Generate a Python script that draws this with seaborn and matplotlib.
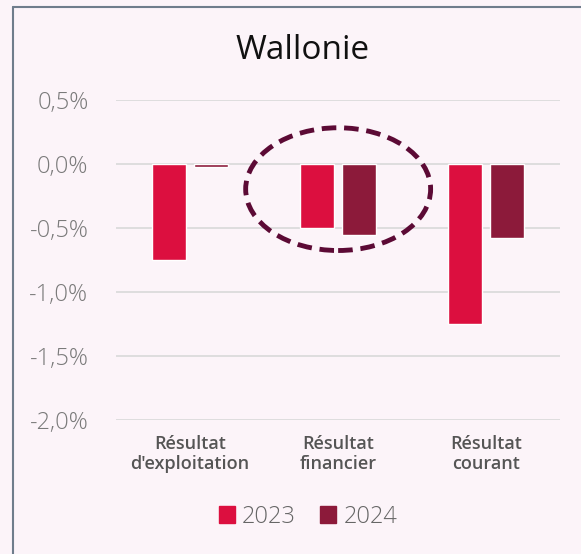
import numpy as np
import pandas as pd
import matplotlib
matplotlib.use("Agg")
import matplotlib.pyplot as plt
from matplotlib.patches import Ellipse
from matplotlib.lines import Line2D
from matplotlib.ticker import FuncFormatter
import seaborn as sns

# values (in %)
categories = ["Résultat\nd'exploitation", "Résultat\nfinancier", "Résultat\ncourant"]
years = ["2023", "2024"]
values_2023 = [-0.75, -0.50, -1.25]
values_2024 = [-0.02, -0.55, -0.58]
y_ticks = [0.5, 0.0, -0.5, -1.0, -1.5, -2.0]

colors = {"2023": "#dc0f3f", "2024": "#8c1a3a"}

df = pd.DataFrame({
    "cat": categories * 2,
    "year": [years[0]] * 3 + [years[1]] * 3,
    "value": values_2023 + values_2024,
})

sns.set_style("white")
plt.rcParams["font.family"] = ["Open Sans", "DejaVu Sans"]

fig = plt.figure(figsize=(5.81, 5.54), dpi=100, facecolor="#fcf4f9")
ax = fig.add_axes([0.2, 0.242, 0.764, 0.577])
ax.set_facecolor("none")

sns.barplot(data=df, x="cat", y="value", hue="year", palette=colors,
            width=0.57, gap=0.19, order=categories, hue_order=years,
            saturation=1, legend=False, ax=ax, zorder=3)

ax.set_ylim(-2.0, 0.5)
ax.set_xlim(-0.5, 2.5)
ax.set_yticks(y_ticks)
ax.yaxis.set_major_formatter(FuncFormatter(lambda v, _: f"{v:.1f}%".replace(".", ",")))
ax.grid(axis="y", color="#d9d9d9", lw=1.2, zorder=0)
ax.grid(axis="x", visible=False)
sns.despine(ax=ax, left=True, bottom=True)
ax.tick_params(axis="y", length=0, pad=20, labelsize=17, labelcolor="#7a7a7a")
ax.tick_params(axis="x", length=0, pad=11, labelsize=13, labelcolor="#555555")
for lbl in ax.get_xticklabels():
    lbl.set_fontweight("semibold")
    lbl.set_linespacing(1.15)
for lbl in ax.get_yticklabels():
    lbl.set_fontweight("light")
ax.set_xlabel("")
ax.set_ylabel("")

# dashed highlight around the financial result
ax.add_patch(Ellipse((1, -0.195), 1.25, 0.96, fill=False, ls=(0, (3, 1.6)),
                     lw=3.5, color="#5c0a35", clip_on=False, zorder=4))

fig.text(0.52, 0.908, "Wallonie", ha="center", va="center", fontsize=24,
         fontweight="medium", color="#111111")

handles = [plt.Rectangle((0, 0), 1, 1, color=colors[y]) for y in years]
fig.legend(handles, years, loc="center", bbox_to_anchor=(0.53, 0.067), ncol=2,
           frameon=False, handlelength=0.7, handleheight=0.7,
           handletextpad=0.3, columnspacing=1.0, labelcolor="#666666",
           prop={"weight": "light", "size": 17})

# frame of the panel
fig.add_artist(Line2D([13 / 581, 1], [1 - 7 / 554] * 2, color="#6f7d8c", lw=1.5))
fig.add_artist(Line2D([13 / 581] * 2, [0, 1 - 7 / 554], color="#6f7d8c", lw=1.5))

fig.savefig("out.png", dpi=100, facecolor=fig.get_facecolor())
